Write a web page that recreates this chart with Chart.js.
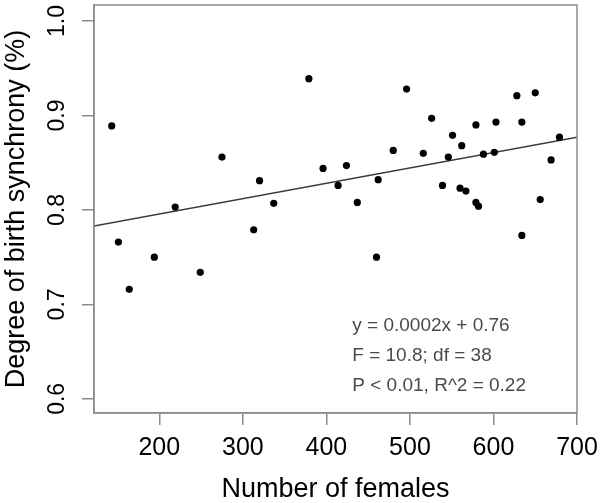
<!DOCTYPE html>
<html>
<head>
<meta charset="utf-8">
<script src="https://cdn.jsdelivr.net/npm/chart.js@4.4.0/dist/chart.umd.min.js"></script>
<style>
  html, body { margin: 0; padding: 0; background: #fff; }
  #wrap { width: 600px; height: 503px; }
</style>
</head>
<body>
<div id="wrap"><canvas id="myChart" width="600" height="503"></canvas></div>
<script>
// number of females per group and the degree of birth synchrony
var femalesX = [143, 151, 164, 194, 219, 249, 275, 313, 320, 337,
                379, 396, 414, 424, 437, 460, 462, 480, 496, 516,
                526, 539, 546, 551, 560, 562, 567, 579, 579, 582,
                588, 601, 603, 628, 634, 634, 650, 656, 669, 679];
var synchronyY = [0.889, 0.766, 0.716, 0.750, 0.803, 0.734, 0.856, 0.779, 0.831, 0.807,
                  0.939, 0.844, 0.826, 0.847, 0.808, 0.750, 0.832, 0.863, 0.928, 0.860,
                  0.897, 0.826, 0.856, 0.879, 0.823, 0.868, 0.820, 0.890, 0.808, 0.804,
                  0.859, 0.861, 0.893, 0.921, 0.893, 0.773, 0.924, 0.811, 0.853, 0.877];

// fitted line, ends at the plot edges
var lineX = [121.8, 700];
var lineY = [0.783, 0.877];

var xTicks = [200, 300, 400, 500, 600, 700];
var yTicks = [0.6, 0.7, 0.8, 0.9, 1.0];

var statsText = ["y = 0.0002x + 0.76", "F = 10.8; df = 38", "P < 0.01, R^2 = 0.22"];

var FONT = "'Liberation Sans', Arial, Helvetica, sans-serif";

var points = [];
for (var i = 0; i < femalesX.length; i++) {
    points.push({x: femalesX[i], y: synchronyY[i]});
}
var fitLine = [];
for (var j = 0; j < lineX.length; j++) {
    fitLine.push({x: lineX[j], y: lineY[j]});
}

// box round the plot region, like R's bty = "o"
var boxPlugin = {
    id: 'box',
    afterDraw: function(chart) {
        var a = chart.chartArea;
        var ctx = chart.ctx;
        ctx.save();
        ctx.strokeStyle = '#8c8c8c';
        ctx.lineWidth = 1.5;
        ctx.strokeRect(a.left, a.top, a.right - a.left, a.bottom - a.top);
        ctx.restore();
    }
};

// regression stats in the lower right
var statsPlugin = {
    id: 'stats',
    afterDraw: function(chart) {
        var ctx = chart.ctx;
        var xs = chart.scales.x;
        var ys = chart.scales.y;
        var x0 = xs.getPixelForValue(431);
        var rows = [0.677, 0.6455, 0.614];
        ctx.save();
        ctx.fillStyle = '#4a4a4a';
        ctx.font = '19px ' + FONT;
        ctx.textAlign = 'left';
        ctx.textBaseline = 'middle';
        statsText.forEach(function(t, k) {
            ctx.fillText(t, x0, ys.getPixelForValue(rows[k]));
        });
        ctx.restore();
    }
};

var ctx = document.getElementById("myChart");
var myChart = new Chart(ctx, {
    type: 'scatter',
    data: {
        datasets: [{
            label: 'groups',
            data: points,
            backgroundColor: '#000',
            borderColor: '#000',
            pointRadius: 3.6,
            pointHoverRadius: 3.6,
            borderWidth: 0
        }, {
            label: 'fit',
            data: fitLine,
            showLine: true,
            pointRadius: 0,
            borderColor: '#3c3c3c',
            borderWidth: 1.6,
            fill: false
        }]
    },
    options: {
        responsive: false,
        animation: false,
        events: [],
        layout: {
            padding: {left: 0, right: 23, top: 5, bottom: 0}
        },
        plugins: {
            legend: {display: false},
            tooltip: {enabled: false}
        },
        scales: {
            x: {
                type: 'linear',
                min: 121.8,
                max: 700,
                afterBuildTicks: function(scale) {
                    scale.ticks = xTicks.map(function(v) { return {value: v}; });
                },
                afterFit: function(scale) {
                    scale.height = 90;
                    scale.paddingLeft = 0;
                    scale.paddingRight = 0;
                },
                grid: {
                    drawOnChartArea: false,
                    drawTicks: true,
                    tickLength: 12,
                    color: '#8c8c8c',
                    lineWidth: 1.5
                },
                border: {display: true, color: '#8c8c8c', width: 1.5},
                ticks: {
                    color: '#000',
                    font: {family: FONT, size: 25},
                    padding: 8,
                    maxRotation: 0,
                    autoSkip: false,
                    callback: function(v) { return String(v); }
                },
                title: {
                    display: true,
                    text: 'Number of females',
                    color: '#000',
                    font: {family: FONT, size: 27, lineHeight: 1},
                    padding: {top: 0, bottom: 0}
                }
            },
            y: {
                type: 'linear',
                min: 0.585,
                max: 1.017,
                afterBuildTicks: function(scale) {
                    scale.ticks = yTicks.map(function(v) { return {value: v}; });
                },
                afterFit: function(scale) {
                    scale.width = 94;
                    scale.paddingTop = 0;
                    scale.paddingBottom = 0;
                },
                grid: {
                    drawOnChartArea: false,
                    drawTicks: true,
                    tickLength: 12,
                    color: '#8c8c8c',
                    lineWidth: 1.5
                },
                border: {display: true, color: '#8c8c8c', width: 1.5},
                ticks: {
                    color: '#000',
                    font: {family: FONT, size: 23},
                    padding: 8,
                    minRotation: 90,
                    maxRotation: 90,
                    crossAlign: 'center',
                    autoSkip: false,
                    callback: function(v) { return v.toFixed(1); }
                },
                title: {
                    display: true,
                    text: 'Degree of birth synchrony (%)',
                    color: '#000',
                    font: {family: FONT, size: 27, lineHeight: 1},
                    padding: {top: 3, bottom: 0}
                }
            }
        }
    },
    plugins: [boxPlugin, statsPlugin]
});
</script>
</body>
</html>
